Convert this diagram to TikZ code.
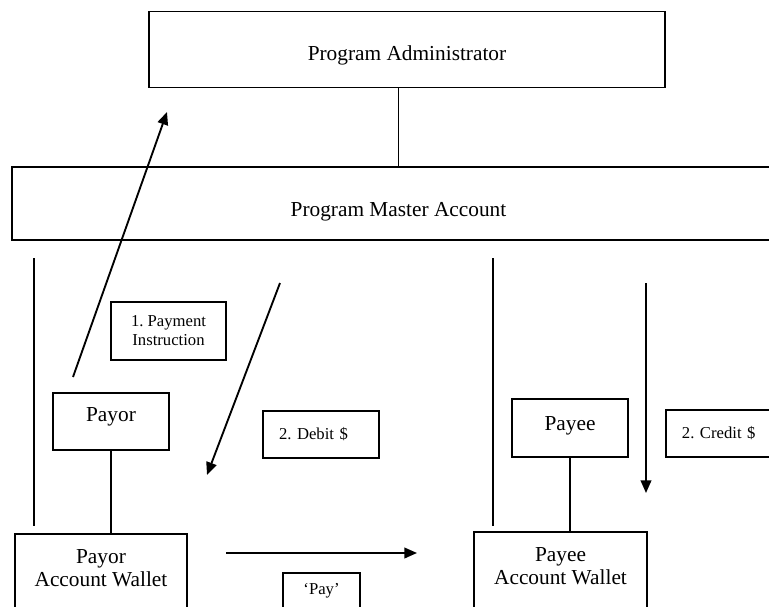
\documentclass[tikz,border=0pt]{standalone}
\usepackage{fontspec}
\setmainfont{Liberation Serif}
\usetikzlibrary{arrows.meta}

\tikzset{
  box/.style={draw, line width=1.4pt, inner sep=0pt, align=center,
    font=\fontsize{16}{17.25}\selectfont},
  note/.style={draw, line width=1.4pt, inner sep=0pt, align=center,
    font=\fontsize{12.5}{14.25}\selectfont},
  flow/.style={line width=1.4pt, -{Triangle[length=9.5pt, width=8pt]}},
  rule/.style={line width=1.4pt}
}

\begin{document}
\frenchspacing
\begin{tikzpicture}[x=0.75pt, y=-0.75pt, line cap=butt, line join=miter]

		\useasboundingbox (0,0) rectangle (769,607);
		\clip (0,0) rectangle (769,607);

		% ---------- Top boxes ----------
		\node[box, minimum width=387pt, minimum height=57pt, text height=19pt, text depth=3.2pt]
		(admin) at (407,49.5) {Program Administrator};
		\node[box, minimum width=579.75pt, minimum height=54.75pt, text height=22pt, text depth=3.2pt]
		(master) at (398.5,203.5) {Program Master Account};
		\draw[rule] (master.north |- admin.south) -- (master.north);

		% ---------- Payor side ----------
		\node[box, anchor=north, minimum width=87pt, inner ysep=11.25pt, text depth=9.65pt]
		(payor) at (111,392) {Payor};
		\node[box, anchor=north, minimum width=129pt, inner ysep=12pt, text depth=60pt]
		(payorwallet) at (101,533) {Payor\\Account Wallet};
		\draw[rule] (payor.south) -- (payor.south |- payorwallet.north);

		\node[note, minimum width=86.25pt, minimum height=43.5pt]
		(instr) at (168.5,331) {1. Payment\\Instruction};
		\node[note, minimum height=35.25pt, inner xsep=12pt, text width=63pt, align=left]
		(debit) at (321,434.5) {2. Debit \$};

		\coordinate (leftTop) at (34,258);
		\coordinate (leftBot) at (34,526);
		\draw[rule] (leftTop) -- (leftBot);

		\coordinate (instrFrom) at (73,377);
		\coordinate (instrTo) at (167,112);
		\draw[flow] (instrFrom) -- (instrTo);

		\coordinate (debitFrom) at (280,283);
		\coordinate (debitTo) at (207,475);
		\draw[flow] (debitFrom) -- (debitTo);

		% ---------- Pay arrow ----------
		\coordinate (payFrom) at (226,553);
		\coordinate (payTo) at (417,553);
		\draw[flow] (payFrom) -- (payTo);
		\node[note, anchor=north, minimum width=57.75pt, inner ysep=8pt, text depth=30pt]
		(pay) at (321.5,572) {`Pay'};

		% ---------- Payee side ----------
		\node[box, anchor=north, minimum width=87pt, inner ysep=13.5pt, text depth=5.9pt]
		(payee) at (570,398) {Payee};
		\node[box, anchor=north, minimum width=129.75pt, inner ysep=12pt, text depth=60pt]
		(payeewallet) at (560.5,531) {Payee\\Account Wallet};
		\draw[rule] (payee.south) -- (payee.south |- payeewallet.north);

		\node[note, anchor=west, minimum height=35.25pt, inner xsep=12pt, text width=80pt, align=left]
		(credit) at (665,433.5) {2. Credit \$};

		\coordinate (rightTop) at (493,258);
		\coordinate (rightBot) at (493,526);
		\draw[rule] (rightTop) -- (rightBot);

		\coordinate (creditFrom) at (646,283);
		\coordinate (creditTo) at (646,493);
		\draw[flow] (creditFrom) -- (creditTo);

\end{tikzpicture}
\end{document}
